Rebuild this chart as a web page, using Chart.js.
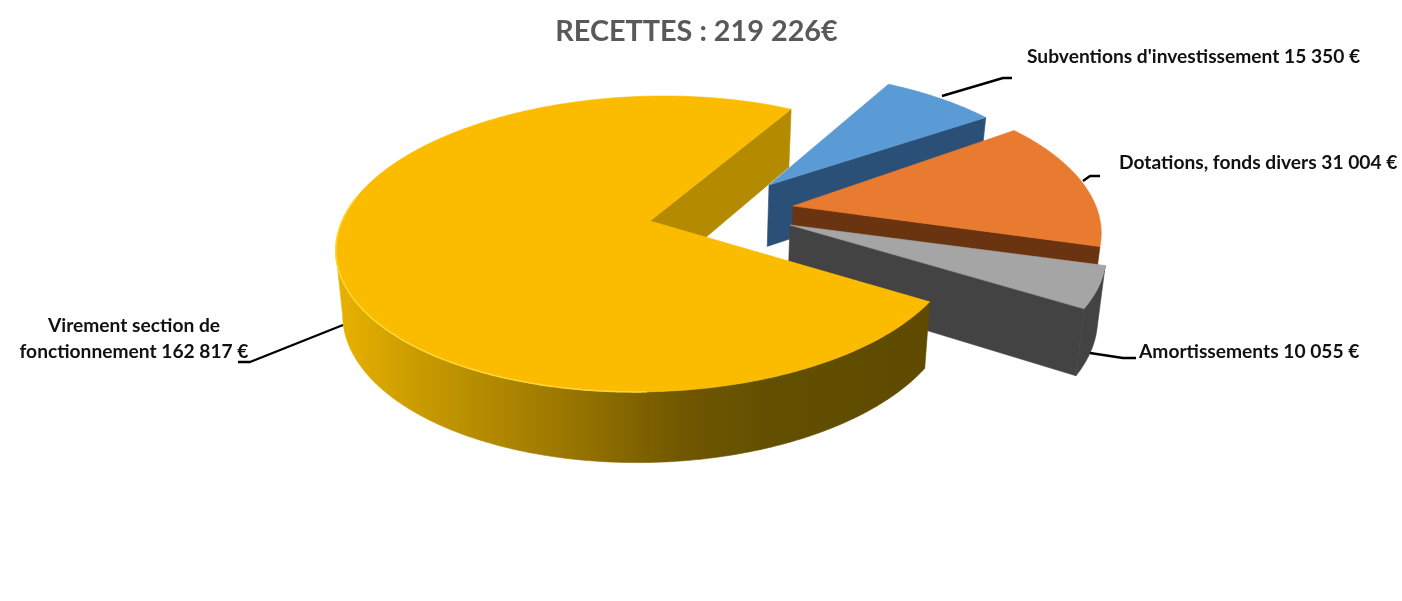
<!DOCTYPE html>
<html lang="fr">
<head>
<meta charset="utf-8">
<title>Recettes</title>
<script src="https://cdn.jsdelivr.net/npm/chart.js@4"></script>
<style>
  html, body { margin: 0; padding: 0; background: #fff; }
  canvas { display: block; }
</style>
</head>
<body>
<canvas id="chart_recettes" width="1402" height="601"></canvas>
<script>
const chartTitle = "RECETTES : 219 226€";
const categories = [
  ["Virement section de", "fonctionnement"],
  ["Subventions d'investissement"],
  ["Dotations, fonds divers"],
  ["Amortissements"]
];
const values = [162817, 15350, 31004, 10055];

// colours, same order as the values
const topColors = ["#FBBC00", "#5B9BD5", "#E87B2F", "#A5A5A5"];
const faceColors = ["#B48A00", "#2B5078", "#6B3410", "#434343"];
const rimColors = [null, "#2B5078", "#6B3410", "#434343"];

// how far each slice is pulled out of the pie, in pixels
const rimShiftX = [0, 107, 139, 143];
const rimShiftY = [0, -25, -12, 7];
const rimShear = [0, 11, 17, 22];
const apexShiftX = [0, 119, 143, 140];
const apexShiftY = [0, -36, -15, 4];

// label text positions and leader lines
const labelX = [134, 1027, 1119, 1139];
const labelY = [326, 56.5, 163, 352];
const labelAlign = ["center", "left", "left", "left"];
const leaderX = [[343, 250, 238], [942, 1003, 1012], [1083, 1090, 1100], [1090, 1123, 1136]];
const leaderY = [[325, 362, 362], [96, 78, 78], [181, 176, 176], [353, 358, 358]];

const view = { x: 650, y: 221, sx: 308, sy: 144.4, k: 0.155, shear: -14, vanishX: 680, shrink: 0.02, depth: 63, depthSlope: 0.045 };

function project(a, i, radius) {
  const u = Math.cos(a) * radius, v = Math.sin(a) * radius;
  const w = 1 - view.k * v;
  return {
    x: view.x + view.sx * u / w + (view.shear + rimShear[i]) * v + rimShiftX[i],
    y: view.y + view.sy * v / w + rimShiftY[i]
  };
}

function apexOf(i) {
  return { x: view.x + apexShiftX[i], y: view.y + apexShiftY[i] };
}

// the far side of the pie looks thinner than the near side
function lower(p) {
  return {
    x: p.x - (p.x - view.vanishX) * view.shrink,
    y: p.y + view.depth + (p.y - view.y) * view.depthSlope
  };
}

function rimPoints(start, end, i) {
  const pts = [];
  const n = Math.max(2, Math.ceil((end - start) / 0.01));
  for (let j = 0; j <= n; j++) {
    const a = start + (end - start) * j / n;
    pts.push({ a: a, p: project(a, i, 1) });
  }
  return pts;
}

function fillPoly(ctx, pts, color) {
  ctx.beginPath();
  pts.forEach(function (p, j) {
    if (j == 0) ctx.moveTo(p.x, p.y);
    else ctx.lineTo(p.x, p.y);
  });
  ctx.closePath();
  ctx.fillStyle = color;
  ctx.fill();
  // same colour outline closes the hairline between neighbouring faces
  ctx.strokeStyle = color;
  ctx.lineWidth = 0.6;
  ctx.stroke();
}

function yellowRimGradient(ctx) {
  const g = ctx.createLinearGradient(340, 0, 930, 0);
  g.addColorStop(0, "#E8B100");
  g.addColorStop(0.14, "#C89A00");
  g.addColorStop(0.38, "#9A7700");
  g.addColorStop(0.58, "#705700");
  g.addColorStop(0.72, "#625000");
  g.addColorStop(1, "#5F4A00");
  return g;
}

function drawSlice(ctx, arc, i) {
  const rim = rimPoints(arc.startAngle, arc.endAngle, i);
  const apex = apexOf(i);
  const last = rim[rim.length - 1].p;

  // cut face seen at the end of the slice
  fillPoly(ctx, [apex, last, lower(last), lower(apex)], faceColors[i]);

  // outer wall, only the part turned towards the viewer, stopped at the leftmost point
  let front = rim.filter(function (r) { return Math.sin(r.a) > 0; }).map(function (r) { return r.p; });
  let left = 0;
  front.forEach(function (p, j) { if (p.x < front[left].x) left = j; });
  front = front.slice(0, left + 1);
  if (front.length > 1) {
    const bottom = front.map(lower).reverse();
    fillPoly(ctx, front.concat(bottom), rimColors[i] || yellowRimGradient(ctx));
  }

  // top face
  fillPoly(ctx, [apex].concat(rim.map(function (r) { return r.p; })), arc.options.backgroundColor);

  // light edge on the big slice
  if (i == 0) {
    ctx.beginPath();
    rim.forEach(function (r) {
      const deg = ((r.a * 180 / Math.PI) % 360 + 360) % 360;
      if (deg > 88 && deg < 190) ctx.lineTo(r.p.x, r.p.y);
    });
    ctx.strokeStyle = "#FFD83A";
    ctx.lineWidth = 1.5;
    ctx.stroke();
  }
}

function formatValue(v) {
  return String(v).replace(/\B(?=(\d{3})+$)/g, " ") + " €";
}

const pie3d = {
  id: "pie3d",
  beforeDatasetsDraw: function (chart) {
    const ctx = chart.ctx;
    const arcs = chart.getDatasetMeta(0).data;
    ctx.save();
    // back to front
    [1, 2, 3, 0].forEach(function (i) { drawSlice(ctx, arcs[i], i); });
    ctx.restore();
    return false;
  },
  afterDraw: function (chart) {
    const ctx = chart.ctx;
    ctx.save();
    ctx.strokeStyle = "#000";
    ctx.lineWidth = 2.4;
    ctx.lineJoin = "round";
    leaderX.forEach(function (xs, i) {
      ctx.beginPath();
      xs.forEach(function (x, j) {
        if (j == 0) ctx.moveTo(x, leaderY[i][j]);
        else ctx.lineTo(x, leaderY[i][j]);
      });
      ctx.stroke();
    });
    ctx.fillStyle = "#111";
    ctx.font = "bold 19.2px Lato";
    ctx.textBaseline = "middle";
    categories.forEach(function (lines, i) {
      ctx.textAlign = labelAlign[i];
      lines.forEach(function (line, j) {
        const text = j == lines.length - 1 ? line + " " + formatValue(values[i]) : line;
        ctx.fillText(text, labelX[i], labelY[i] + j * 26);
      });
    });
    ctx.restore();
  }
};

new Chart(document.getElementById("chart_recettes"), {
  type: "pie",
  data: {
    labels: categories,
    datasets: [{ data: values, backgroundColor: topColors }]
  },
  options: {
    responsive: false,
    animation: false,
    rotation: 121,
    layout: { padding: { right: 9 } },
    plugins: {
      legend: { display: false },
      tooltip: { enabled: false },
      title: {
        display: true,
        text: chartTitle,
        color: "#595959",
        font: { family: "Lato", size: 28.8, weight: "bold" },
        padding: { top: 14, bottom: 10 }
      }
    }
  },
  plugins: [pie3d]
});
</script>
</body>
</html>
